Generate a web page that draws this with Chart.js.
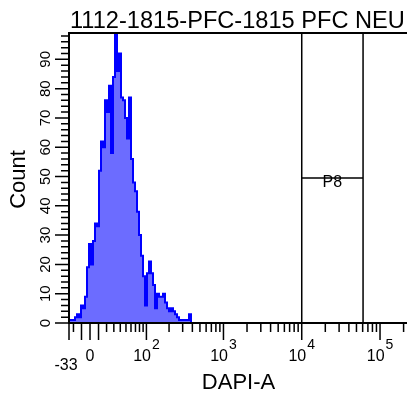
<!DOCTYPE html>
<html>
<head>
<meta charset="utf-8">
<script src="https://cdn.jsdelivr.net/npm/chart.js@4.4.1/dist/chart.umd.min.js"></script>
<style>
  html, body { margin: 0; padding: 0; background: #fff; overflow: hidden; }
  #wrap { width: 407px; height: 397px; }
</style>
</head>
<body>
<div id="wrap"><canvas id="histo" width="407" height="397"></canvas></div>
<script>
// texts
const title = '1112-1815-PFC-1815 PFC NEU';
const xTitle = 'DAPI-A';
const yTitle = 'Count';

// DAPI-A histogram: counts per display bin, first bin sits on the left edge of the axis
const binsOnAxis = 169;
const counts = [
  1, 1, 1, 2, 3, 2, 6, 5, 9, 19,
  27, 20, 28, 34, 33, 52, 62, 60, 76, 72,
  81, 58, 84, 99, 86, 92, 77, 76, 70, 63,
  77, 56, 48, 45, 38, 30, 23, 16, 6, 17,
  21, 17, 13, 5, 10, 9, 9, 10, 7, 5,
  4, 5, 4, 3, 2, 1, 1, 1, 1, 1,
  3, 0
];

// biexponential display (asinh), axis limits in display units
const W = 39.5;
const xMin = -0.618;   // shown as -33
const xMax = 9.323;
const xMinLabel = '-33';
const xMajorTicks = [-10, 0, 10, 100, 1000, 10000, 100000];
const xMinorTicks = [
  -20, 20, 30, 40, 50, 60, 70, 80, 90,
  200, 300, 400, 500, 600, 700, 800, 900,
  2000, 3000, 4000, 5000, 6000, 7000, 8000, 9000,
  20000, 30000, 40000, 50000, 60000, 70000, 80000, 90000,
  200000
];
const xLabelValues = [0, 100, 1000, 10000, 100000];
const xLabelBase = ['0', '10', '10', '10', '10'];
const xLabelExp = ['', '2', '3', '4', '5'];

// count axis
const yMax = 99;
const yLabels = [0, 10, 20, 30, 40, 50, 60, 70, 80, 90];
const yMinorStep = 2;

// gate
const gateName = 'P8';
const gateRange = [10000, 60700];
const gateLevel = 49.5;

const biex = v => Math.asinh(v / W);
const binW = (xMax - xMin) / binsOnAxis;
const FONT = '"Liberation Sans", Arial, sans-serif';

const flowFrame = {
  id: 'flowFrame',
  afterDatasetsDraw(chart) {
    const { ctx, chartArea: a, scales: { x, y } } = chart;
    ctx.save();
    ctx.strokeStyle = '#000';
    ctx.fillStyle = '#000';

    // gate lines + name
    const g0 = x.getPixelForValue(biex(gateRange[0]));
    const g1 = x.getPixelForValue(biex(gateRange[1]));
    const gy = y.getPixelForValue(gateLevel);
    ctx.lineWidth = 1.5;
    ctx.beginPath();
    ctx.moveTo(g0, a.bottom); ctx.lineTo(g0, a.top);
    ctx.moveTo(g1, a.bottom); ctx.lineTo(g1, a.top);
    ctx.moveTo(g0, gy); ctx.lineTo(g1, gy);
    ctx.stroke();
    ctx.font = '16px ' + FONT;
    ctx.textAlign = 'center';
    ctx.textBaseline = 'alphabetic';
    ctx.fillText(gateName, (g0 + g1) / 2, gy + 9);

    // frame
    ctx.lineWidth = 2;
    ctx.beginPath();
    ctx.moveTo(a.right, a.top);
    ctx.lineTo(a.left, a.top);
    ctx.lineTo(a.left, a.bottom);
    ctx.lineTo(a.right, a.bottom);
    ctx.stroke();

    // tick marks
    ctx.lineWidth = 1.5;
    ctx.beginPath();
    const xt = (px, len) => { ctx.moveTo(px, a.bottom); ctx.lineTo(px, a.bottom + len); };
    xt(a.left, 17);
    xMajorTicks.forEach(v => xt(x.getPixelForValue(biex(v)), 17));
    xMinorTicks.forEach(v => xt(x.getPixelForValue(biex(v)), 9));
    for (let v = 0; v <= yMax; v += yMinorStep) {
      const py = y.getPixelForValue(v);
      ctx.moveTo(a.left, py);
      ctx.lineTo(a.left - (v % 10 === 0 ? 14 : 8), py);
    }
    ctx.stroke();

    // x tick labels
    ctx.textAlign = 'left';
    xLabelValues.forEach((v, i) => {
      const px = x.getPixelForValue(biex(v));
      ctx.font = '16px ' + FONT;
      const wb = ctx.measureText(xLabelBase[i]).width;
      ctx.font = '14px ' + FONT;
      const we = xLabelExp[i] ? ctx.measureText(xLabelExp[i]).width + 1 : 0;
      const x0 = px - (wb + we) / 2;
      ctx.font = '16px ' + FONT;
      ctx.fillText(xLabelBase[i], x0, 361);
      if (xLabelExp[i]) {
        ctx.font = '14px ' + FONT;
        ctx.fillText(xLabelExp[i], x0 + wb + 1, 349);
      }
    });
    ctx.font = '16px ' + FONT;
    ctx.textAlign = 'center';
    ctx.fillText(xMinLabel, a.left - 3, 370);

    // y tick labels (rotated)
    ctx.font = '15px ' + FONT;
    yLabels.forEach(v => {
      ctx.save();
      ctx.translate(50, y.getPixelForValue(v));
      ctx.rotate(-Math.PI / 2);
      ctx.fillText(String(v), 0, 0);
      ctx.restore();
    });

    // titles
    ctx.font = '22px ' + FONT;
    ctx.fillText(xTitle, 238.5, 389);
    ctx.save();
    ctx.translate(25, 179.5);
    ctx.rotate(-Math.PI / 2);
    ctx.fillText(yTitle, 0, 0);
    ctx.restore();
    ctx.font = '23.6px ' + FONT;
    ctx.textAlign = 'left';
    ctx.fillText(title, 70, 28);

    ctx.restore();
  }
};

new Chart(document.getElementById('histo'), {
  type: 'line',
  data: {
    datasets: [{
      data: counts.map((c, i) => ({ x: xMin + (i + 0.5) * binW, y: c })),
      stepped: 'middle',
      fill: 'origin',
      borderColor: '#0000ff',
      backgroundColor: 'rgb(108,108,255)',
      borderWidth: 2,
      pointRadius: 0
    }]
  },
  options: {
    responsive: false,
    animation: false,
    devicePixelRatio: 1,
    layout: { padding: { left: 69, top: 33, right: 0, bottom: 74 } },
    scales: {
      x: { type: 'linear', display: false, min: xMin, max: xMax },
      y: { type: 'linear', display: false, min: 0, max: yMax }
    },
    plugins: { legend: { display: false }, tooltip: { enabled: false } }
  },
  plugins: [flowFrame]
});
</script>
</body>
</html>
